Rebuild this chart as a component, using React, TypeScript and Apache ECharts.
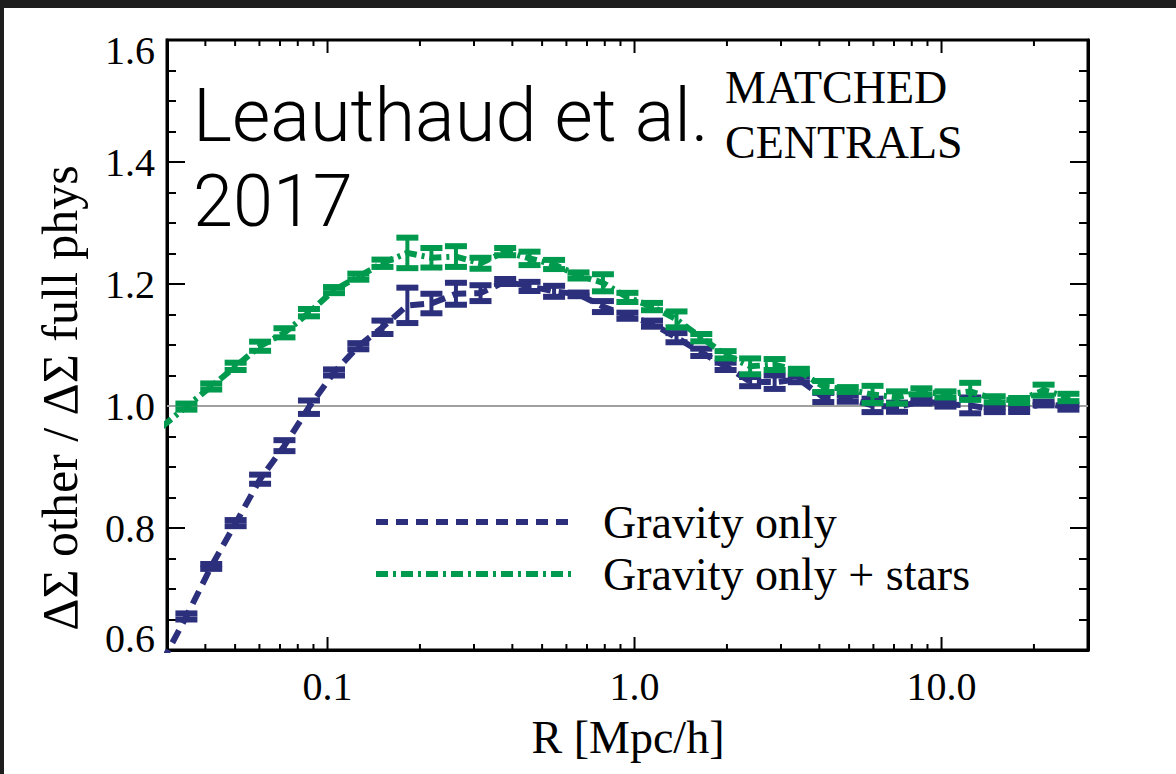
import { useEffect, useRef } from 'react';
import * as echarts from 'echarts';

// Projected radius bins [Mpc/h]
const R_BINS = [
  0.0289, 0.0347, 0.0418, 0.0502, 0.0603, 0.0724, 0.087, 0.105, 0.126, 0.151,
  0.182, 0.218, 0.262, 0.315, 0.379, 0.455, 0.547, 0.657, 0.789, 0.948,
  1.14, 1.37, 1.65, 1.98, 2.38, 2.86, 3.43, 4.12, 4.95, 5.96,
  7.16, 8.6, 10.3, 12.4, 14.9, 17.9, 21.5, 25.9,
];

// Ratio of lensing signal to the full-physics run: gravity only
const GRAVITY_ONLY = [
  0.58, 0.655, 0.737, 0.808, 0.88, 0.935, 0.998, 1.055, 1.098, 1.129,
  1.165, 1.168, 1.184, 1.185, 1.204, 1.196, 1.188, 1.183, 1.163, 1.148,
  1.135, 1.112, 1.088, 1.065, 1.04, 1.039, 1.044, 1.014, 1.012, 1.001,
  0.998, 1.008, 1.003, 1.001, 0.994, 0.994, 1.004, 0.998,
];
const GRAVITY_ONLY_ERR = [
  0.005, 0.005, 0.004, 0.005, 0.0075, 0.009, 0.011, 0.005, 0.005, 0.011,
  0.029, 0.016, 0.018, 0.013, 0.004, 0.0075, 0.009, 0.003, 0.009, 0.005,
  0.005, 0.0075, 0.006, 0.006, 0.0075, 0.011, 0.005, 0.0075, 0.005, 0.011,
  0.0075, 0.004, 0.004, 0.013, 0.004, 0.004, 0.003, 0.004,
];

// Gravity only + stars
const GRAVITY_STARS = [
  0.966, 0.999, 1.032, 1.065, 1.098, 1.12, 1.153, 1.19, 1.212, 1.234,
  1.251, 1.243, 1.245, 1.234, 1.253, 1.242, 1.232, 1.214, 1.202, 1.178,
  1.163, 1.142, 1.112, 1.084, 1.065, 1.068, 1.057, 1.032, 1.027, 1.019,
  1.014, 1.024, 1.019, 1.024, 1.011, 1.009, 1.026, 1.014,
];
const GRAVITY_STARS_ERR = [
  0.005, 0.005, 0.005, 0.006, 0.0075, 0.0075, 0.006, 0.005, 0.005, 0.006,
  0.025, 0.016, 0.017, 0.009, 0.006, 0.011, 0.0075, 0.005, 0.014, 0.0075,
  0.006, 0.013, 0.006, 0.006, 0.013, 0.009, 0.004, 0.009, 0.004, 0.014,
  0.01, 0.005, 0.005, 0.014, 0.005, 0.004, 0.009, 0.006,
];

const X_MIN = 0.03;
const X_MAX = 30;
const Y_MIN = 0.6;
const Y_MAX = 1.6;
const Y_STEP = 0.2;

const X_MAJOR_TICKS = [0.1, 1, 10];
const X_MINOR_TICKS = [
  0.04, 0.05, 0.06, 0.07, 0.08, 0.09,
  0.2, 0.3, 0.4, 0.5, 0.6, 0.7, 0.8, 0.9,
  2, 3, 4, 5, 6, 7, 8, 9,
  20,
];

const SERIES_NAMES = ['Gravity only', 'Gravity only + stars'];
const BLUE = '#2b2f7c';
const GREEN = '#009a4e';
const SERIF = '"Liberation Serif", "Times New Roman", serif';
const SANS_LIGHT = 'Roboto, "Liberation Sans", sans-serif';

function errorBarRenderer(color: string) {
  return (params: any, api: any) => {
    const x = api.value(0);
    const y = api.value(1);
    const e = api.value(2);
    const top = api.coord([x, y + e]);
    const bot = api.coord([x, y - e]);
    const halfW = 11;
    const capH = 6;
    const stemW = 4;
    return {
      type: 'group',
      children: [
        {
          type: 'rect',
          shape: { x: top[0] - stemW / 2, y: top[1], width: stemW, height: bot[1] - top[1] },
          style: { fill: color },
        },
        {
          type: 'rect',
          shape: { x: top[0] - halfW, y: top[1] - capH / 2, width: halfW * 2, height: capH },
          style: { fill: color },
        },
        {
          type: 'rect',
          shape: { x: bot[0] - halfW, y: bot[1] - capH / 2, width: halfW * 2, height: capH },
          style: { fill: color },
        },
      ],
    };
  };
}

function tickRenderer(params: any, api: any) {
  const v = api.value(0);
  const major = api.value(1) === 1;
  const cs = params.coordSys;
  const px = api.coord([v, 1])[0];
  const len = major ? 13 : 6;
  const bottom = cs.y + cs.height;
  return {
    type: 'group',
    children: [
      { type: 'line', shape: { x1: px, y1: bottom, x2: px, y2: bottom - len }, style: { stroke: '#000', lineWidth: 2 } },
      { type: 'line', shape: { x1: px, y1: cs.y, x2: px, y2: cs.y + len }, style: { stroke: '#000', lineWidth: 2 } },
    ],
  };
}

function xLabel(v: number) {
  const lg = Math.log10(v);
  if (Math.abs(lg - Math.round(lg)) > 1e-6) return '';
  const p = Math.round(lg);
  return p < 0 ? String(Math.pow(10, p)) : Math.pow(10, p).toFixed(1);
}

function yLabel(v: number) {
  const s = v.toFixed(1);
  if (Math.abs(v - Y_MAX) < 1e-6) return `{hi|${s}}`;
  if (Math.abs(v - Y_MIN) < 1e-6) return `{lo|${s}}`;
  return s;
}

export default function App() {
  const ref = useRef<HTMLDivElement>(null);

  useEffect(() => {
    document.body.style.margin = '0';
    if (!ref.current) return;
    const chart = echarts.init(ref.current, undefined, { renderer: 'svg' });

    const inRange = (r: number) => r >= X_MIN && r <= X_MAX;
    const blueLine = R_BINS.map((r, i) => [r, GRAVITY_ONLY[i]]);
    const greenLine = R_BINS.map((r, i) => [r, GRAVITY_STARS[i]]);
    const blueErr = R_BINS.map((r, i) => [r, GRAVITY_ONLY[i], GRAVITY_ONLY_ERR[i]]).filter((d) => inRange(d[0]));
    const greenErr = R_BINS.map((r, i) => [r, GRAVITY_STARS[i], GRAVITY_STARS_ERR[i]]).filter((d) => inRange(d[0]));
    const ticks = [...X_MAJOR_TICKS.map((v) => [v, 1]), ...X_MINOR_TICKS.map((v) => [v, 0])];

    const yAxisCommon = {
      type: 'value',
      min: Y_MIN,
      max: Y_MAX,
      interval: Y_STEP,
      axisLine: { show: true, lineStyle: { color: '#000', width: 3 } },
      axisTick: { show: true, inside: true, length: 18, lineStyle: { color: '#000', width: 2 } },
      minorTick: { show: true, splitNumber: 4, length: 9, lineStyle: { color: '#000', width: 2 } },
      splitLine: { show: false },
    };

    chart.setOption({
      animation: false,
      backgroundColor: '#ffffff',
      grid: { left: 167, right: 88, top: 40, bottom: 124, show: true, borderColor: '#000', borderWidth: 3 },
      xAxis: {
        type: 'log',
        logBase: 10,
        min: X_MIN,
        max: X_MAX,
        axisLine: { show: true, lineStyle: { color: '#000', width: 3 } },
        axisTick: { show: false },
        splitLine: { show: false },
        axisLabel: {
          formatter: xLabel,
          fontFamily: SERIF,
          fontSize: 40,
          color: '#000',
          margin: 16,
          showMinLabel: false,
          showMaxLabel: false,
        },
      },
      yAxis: [
        {
          ...yAxisCommon,
          position: 'left',
          axisLabel: {
            formatter: yLabel,
            fontFamily: SERIF,
            fontSize: 40,
            color: '#000',
            margin: 12,
            rich: {
              hi: { fontFamily: SERIF, fontSize: 40, color: '#000', padding: [20, 0, 0, 0] },
              lo: { fontFamily: SERIF, fontSize: 40, color: '#000', padding: [0, 0, 24, 0] },
            },
          },
        },
        { ...yAxisCommon, position: 'right', axisLabel: { show: false } },
      ],
      series: [
        {
          name: 'ticks',
          type: 'custom',
          renderItem: tickRenderer,
          data: ticks,
          encode: { x: 0, y: 1 },
          silent: true,
          z: 10,
        },
        {
          name: SERIES_NAMES[0],
          type: 'line',
          data: blueLine,
          symbol: 'none',
          clip: true,
          lineStyle: { color: BLUE, width: 6, type: [14, 8], cap: 'butt' },
          markLine: {
            silent: true,
            symbol: 'none',
            label: { show: false },
            lineStyle: { color: '#a0a0a0', width: 2, type: 'solid' },
            data: [{ yAxis: 1.0 }],
            z: 1,
          },
          z: 2,
        },
        {
          name: SERIES_NAMES[0] + ' errors',
          type: 'custom',
          renderItem: errorBarRenderer(BLUE),
          data: blueErr,
          encode: { x: 0, y: 1 },
          clip: true,
          silent: true,
          z: 3,
        },
        {
          name: SERIES_NAMES[1],
          type: 'line',
          data: greenLine,
          symbol: 'none',
          clip: true,
          lineStyle: { color: GREEN, width: 6, type: [12, 5, 3, 5], cap: 'butt' },
          z: 4,
        },
        {
          name: SERIES_NAMES[1] + ' errors',
          type: 'custom',
          renderItem: errorBarRenderer(GREEN),
          data: greenErr,
          encode: { x: 0, y: 1 },
          clip: true,
          silent: true,
          z: 5,
        },
      ],
      graphic: [
        { type: 'rect', shape: { x: 0, y: 0, width: 1176, height: 8 }, style: { fill: '#1e1e1e' }, z: 100 },
        { type: 'rect', shape: { x: 0, y: 0, width: 4, height: 774 }, style: { fill: '#1e1e1e' }, z: 100 },
        {
          type: 'text',
          x: 193,
          y: 115,
          style: { text: 'Leauthaud et al.', fontFamily: SANS_LIGHT, fontWeight: 300, fontSize: 74, fill: '#000', align: 'left', verticalAlign: 'middle' },
          z: 50,
        },
        {
          type: 'text',
          x: 193,
          y: 201,
          style: { text: '2017', fontFamily: SANS_LIGHT, fontWeight: 300, fontSize: 72, fill: '#000', align: 'left', verticalAlign: 'middle' },
          z: 50,
        },
        {
          type: 'text',
          x: 725,
          y: 87,
          style: { text: 'MATCHED', fontFamily: SERIF, fontSize: 46, fill: '#000', align: 'left', verticalAlign: 'middle' },
          z: 50,
        },
        {
          type: 'text',
          x: 725,
          y: 142,
          style: { text: 'CENTRALS', fontFamily: SERIF, fontSize: 46, fill: '#000', align: 'left', verticalAlign: 'middle' },
          z: 50,
        },
        {
          type: 'line',
          shape: { x1: 376, y1: 522, x2: 572, y2: 522 },
          style: { stroke: BLUE, lineWidth: 6, lineDash: [12, 8] },
          z: 50,
        },
        {
          type: 'text',
          x: 603,
          y: 522,
          style: { text: SERIES_NAMES[0], fontFamily: SERIF, fontSize: 46, fill: '#000', align: 'left', verticalAlign: 'middle' },
          z: 50,
        },
        {
          type: 'line',
          shape: { x1: 376, y1: 574, x2: 572, y2: 574 },
          style: { stroke: GREEN, lineWidth: 6, lineDash: [12, 5, 3, 5] },
          z: 50,
        },
        {
          type: 'text',
          x: 603,
          y: 574,
          style: { text: SERIES_NAMES[1], fontFamily: SERIF, fontSize: 46, fill: '#000', align: 'left', verticalAlign: 'middle' },
          z: 50,
        },
        {
          type: 'text',
          x: 628,
          y: 737,
          style: { text: 'R [Mpc/h]', fontFamily: SERIF, fontSize: 46, fill: '#000', align: 'center', verticalAlign: 'middle' },
          z: 50,
        },
        {
          type: 'text',
          x: 60,
          y: 398,
          rotation: Math.PI / 2,
          style: { text: 'ΔΣ other / ΔΣ full phys', fontFamily: SERIF, fontSize: 50, fill: '#000', align: 'center', verticalAlign: 'middle' },
          z: 50,
        },
      ],
    });

    return () => chart.dispose();
  }, []);

  return <div ref={ref} style={{ width: 1176, height: 774 }} />;
}
